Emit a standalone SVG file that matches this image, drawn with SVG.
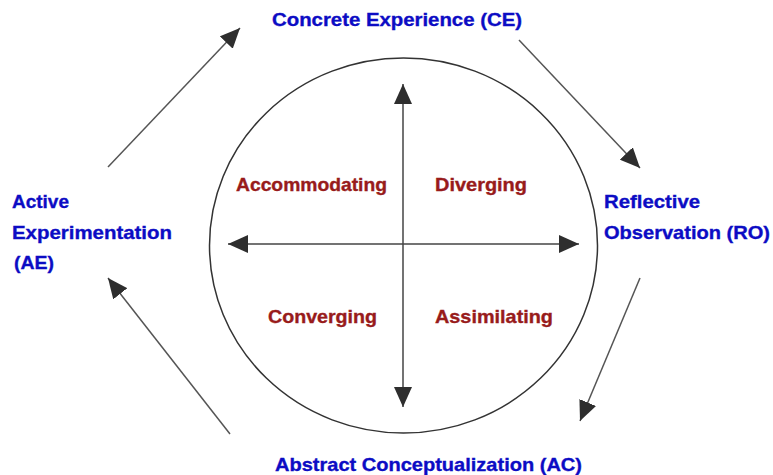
<svg xmlns="http://www.w3.org/2000/svg" width="773" height="475" viewBox="0 0 773 475">
  <style>
    .stage { font-family: "Liberation Sans", Arial, sans-serif; font-weight: bold; font-size: 19px; fill: #0c0cc4; stroke: #0c0cc4; stroke-width: 0.35; }
    .style { font-family: "Liberation Sans", Arial, sans-serif; font-weight: bold; font-size: 18.5px; fill: #981b1b; stroke: #981b1b; stroke-width: 0.35; }
    .link { stroke: #555; stroke-width: 1.5; fill: none; marker-end: url(#head); }
    .axis { stroke: #444; stroke-width: 1.5; fill: none; marker-end: url(#head); }
  </style>
  <defs>
    <marker id="head" viewBox="0 0 20 18" refX="20" refY="9" markerWidth="20" markerHeight="18" markerUnits="userSpaceOnUse" orient="auto">
      <path d="M0,0 L20,9 L0,18 Z" fill="#2e2e2e"/>
    </marker>
  </defs>
  <rect width="773" height="475" fill="#fff"/>

  <!-- learning cycle ring -->
  <ellipse cx="403.5" cy="245.5" rx="194" ry="187.5" fill="none" stroke="#333" stroke-width="1.5"/>

  <!-- cycle connectors and axes -->
  <g id="connectors">
    <line class="link" x1="108" y1="167" x2="240" y2="28"/>
    <line class="link" x1="519" y1="40" x2="640" y2="168"/>
    <line class="link" x1="640" y1="278" x2="580" y2="421"/>
    <line class="link" x1="230" y1="434" x2="108" y2="278"/>
    <line class="axis" x1="403" y1="246" x2="403" y2="84"/>
    <line class="axis" x1="403" y1="246" x2="403" y2="407"/>
    <line class="axis" x1="403" y1="244" x2="228" y2="244"/>
    <line class="axis" x1="403" y1="244" x2="579" y2="244"/>
  </g>

  <g id="ce"><text class="stage" x="272" y="26" textLength="250" lengthAdjust="spacingAndGlyphs">Concrete Experience (CE)</text></g>
  <g id="ro">
    <text class="stage" x="604" y="208" textLength="96" lengthAdjust="spacingAndGlyphs">Reflective</text>
    <text class="stage" x="604" y="239" textLength="166" lengthAdjust="spacingAndGlyphs">Observation (RO)</text>
  </g>
  <g id="ac"><text class="stage" x="275" y="471" textLength="307" lengthAdjust="spacingAndGlyphs">Abstract Conceptualization (AC)</text></g>
  <g id="ae">
    <text class="stage" x="12" y="208" textLength="57" lengthAdjust="spacingAndGlyphs">Active</text>
    <text class="stage" x="12" y="239" textLength="160" lengthAdjust="spacingAndGlyphs">Experimentation</text>
    <text class="stage" x="14" y="269" textLength="40" lengthAdjust="spacingAndGlyphs">(AE)</text>
  </g>

  <g id="accommodating"><text class="style" x="236" y="191" textLength="151" lengthAdjust="spacingAndGlyphs">Accommodating</text></g>
  <g id="diverging"><text class="style" x="435" y="191" textLength="92" lengthAdjust="spacingAndGlyphs">Diverging</text></g>
  <g id="converging"><text class="style" x="268" y="323" textLength="109" lengthAdjust="spacingAndGlyphs">Converging</text></g>
  <g id="assimilating"><text class="style" x="435" y="323" textLength="118" lengthAdjust="spacingAndGlyphs">Assimilating</text></g>
</svg>
